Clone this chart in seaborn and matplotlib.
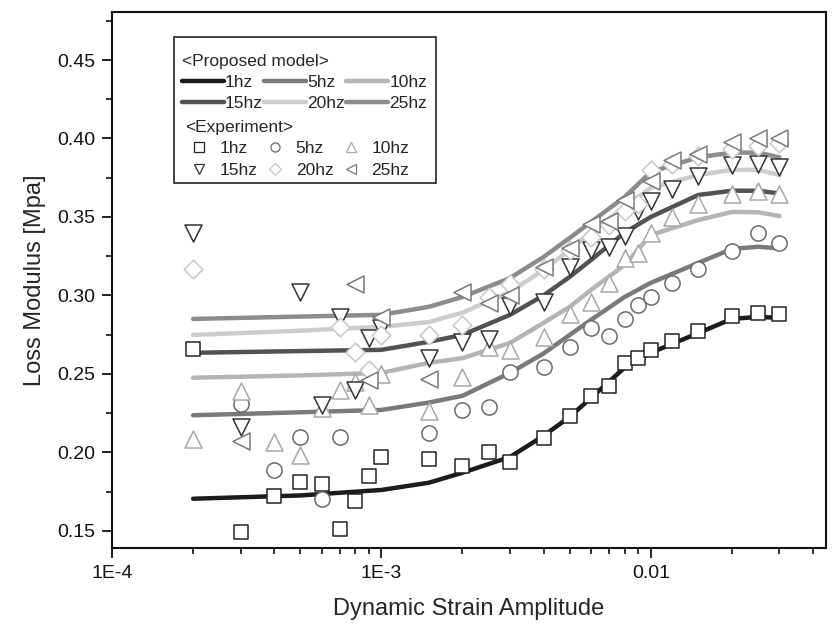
import numpy as np
import pandas as pd
import seaborn as sns
from matplotlib import pyplot as plt
from matplotlib.lines import Line2D
from matplotlib.patches import Rectangle
from matplotlib.ticker import FixedLocator, FixedFormatter, LogLocator, MultipleLocator, NullFormatter

sns.set_style("ticks")
plt.rcParams['font.family'] = ['Liberation Sans', 'DejaVu Sans']

# model curves (Proposed model)
model_x = [2e-4, 5e-4, 1e-3, 1.5e-3, 2e-3, 3e-3, 4e-3, 5e-3, 6e-3, 8e-3, 1e-2, 1.5e-2, 2e-2, 2.5e-2, 3e-2]
model_1hz = [0.1704, 0.1725, 0.1760, 0.1806, 0.1870, 0.1970, 0.2105, 0.2226, 0.2347, 0.2540, 0.2634, 0.2760, 0.2850, 0.2863, 0.2857]
model_5hz = [0.2236, 0.2255, 0.2270, 0.2317, 0.2360, 0.2506, 0.2630, 0.2748, 0.2844, 0.2990, 0.3080, 0.3207, 0.3296, 0.3310, 0.3300]
model_10hz = [0.2475, 0.2490, 0.2506, 0.2570, 0.2600, 0.2697, 0.2825, 0.2927, 0.3035, 0.3194, 0.3385, 0.3480, 0.3532, 0.3530, 0.3506]
model_15hz = [0.2634, 0.2645, 0.2653, 0.2704, 0.2748, 0.2876, 0.3000, 0.3118, 0.3226, 0.3400, 0.3500, 0.3640, 0.3667, 0.3667, 0.3650]
model_20hz = [0.2748, 0.2775, 0.2800, 0.2830, 0.2890, 0.3022, 0.3162, 0.3290, 0.3405, 0.3564, 0.3685, 0.3767, 0.3800, 0.3800, 0.3767]
model_25hz = [0.2850, 0.2865, 0.2876, 0.2927, 0.2990, 0.3110, 0.3245, 0.3366, 0.3468, 0.3627, 0.3787, 0.3880, 0.3910, 0.3910, 0.3880]

# experiment points
exp_x_1hz = [2e-4, 3e-4, 4e-4, 5e-4, 6e-4, 7e-4, 8e-4, 9e-4, 1e-3, 1.5e-3, 2e-3, 2.5e-3, 3e-3, 4e-3,
             5e-3, 6e-3, 7e-3, 8e-3, 9e-3, 1e-2, 1.2e-2, 1.5e-2, 2e-2, 2.5e-2, 3e-2]
exp_1hz = [0.266, 0.149, 0.172, 0.181, 0.180, 0.151, 0.169, 0.185, 0.197, 0.196, 0.191, 0.200, 0.194, 0.209,
           0.223, 0.236, 0.242, 0.257, 0.260, 0.265, 0.271, 0.277, 0.287, 0.289, 0.288]
exp_x_5hz = [3e-4, 4e-4, 5e-4, 6e-4, 7e-4, 1.5e-3, 2e-3, 2.5e-3, 3e-3, 4e-3, 5e-3, 6e-3, 7e-3, 8e-3,
             9e-3, 1e-2, 1.2e-2, 1.5e-2, 2e-2, 2.5e-2, 3e-2]
exp_5hz = [0.231, 0.189, 0.210, 0.170, 0.210, 0.212, 0.227, 0.229, 0.251, 0.2545, 0.267, 0.279, 0.274, 0.285,
           0.294, 0.299, 0.308, 0.317, 0.328, 0.340, 0.3335]
exp_x_10hz = [2e-4, 3e-4, 4e-4, 5e-4, 6e-4, 7e-4, 8e-4, 9e-4, 1e-3, 1.5e-3, 2e-3, 2.5e-3, 3e-3, 4e-3,
              5e-3, 6e-3, 7e-3, 8e-3, 9e-3, 1e-2, 1.2e-2, 1.5e-2, 2e-2, 2.5e-2, 3e-2]
exp_10hz = [0.2086, 0.239, 0.2067, 0.198, 0.228, 0.240, 0.245, 0.230, 0.250, 0.226, 0.248, 0.267, 0.265, 0.2736,
            0.288, 0.296, 0.308, 0.324, 0.327, 0.340, 0.350, 0.358, 0.3645, 0.3667, 0.3645]
exp_x_15hz = [2e-4, 3e-4, 5e-4, 6e-4, 7e-4, 8e-4, 9e-4, 1e-3, 1.5e-3, 2e-3, 2.5e-3, 3e-3, 4e-3,
              5e-3, 6e-3, 7e-3, 8e-3, 9e-3, 1e-2, 1.2e-2, 1.5e-2, 2e-2, 2.5e-2, 3e-2]
exp_15hz = [0.340, 0.216, 0.302, 0.230, 0.286, 0.240, 0.273, 0.279, 0.260, 0.270, 0.272, 0.293, 0.296,
            0.318, 0.329, 0.331, 0.338, 0.354, 0.360, 0.368, 0.376, 0.383, 0.384, 0.382]
exp_x_20hz = [2e-4, 7e-4, 8e-4, 9e-4, 1e-3, 1.5e-3, 2e-3, 2.5e-3, 3e-3, 4e-3, 5e-3, 6e-3, 7e-3, 8e-3,
              9e-3, 1e-2, 1.2e-2, 1.5e-2, 2e-2, 2.5e-2, 3e-2]
exp_20hz = [0.317, 0.280, 0.264, 0.2525, 0.275, 0.275, 0.281, 0.299, 0.307, 0.317, 0.329, 0.337, 0.345, 0.354,
            0.358, 0.380, 0.384, 0.389, 0.393, 0.395, 0.397]
exp_x_25hz = [3e-4, 8e-4, 9e-4, 1e-3, 1.5e-3, 2e-3, 2.5e-3, 3e-3, 4e-3, 5e-3, 6e-3, 7e-3, 8e-3,
              1e-2, 1.2e-2, 1.5e-2, 2e-2, 2.5e-2, 3e-2]
exp_25hz = [0.207, 0.307, 0.246, 0.286, 0.247, 0.302, 0.295, 0.300, 0.318, 0.330, 0.3455, 0.3475, 0.361,
            0.373, 0.386, 0.390, 0.398, 0.400, 0.400]

labels = ["1hz", "5hz", "10hz", "15hz", "20hz", "25hz"]
models = [model_1hz, model_5hz, model_10hz, model_15hz, model_20hz, model_25hz]
exps = [(exp_x_1hz, exp_1hz), (exp_x_5hz, exp_5hz), (exp_x_10hz, exp_10hz),
        (exp_x_15hz, exp_15hz), (exp_x_20hz, exp_20hz), (exp_x_25hz, exp_25hz)]
line_colors = ["#1c1c1c", "#7a7a7a", "#b4b4b4", "#525252", "#cdcdcd", "#8c8c8c"]
marker_colors = ["#222222", "#6a6a6a", "#a8a8a8", "#333333", "#c8c8c8", "#7a7a7a"]
markers = ["s", "o", "^", "v", "D", "<"]
marker_sizes = [100, 120, 150, 150, 90, 150]

fig = plt.figure(figsize=(8.32, 6.32), dpi=100)
ax = fig.add_axes([0.1346, 0.1329, 0.8582, 0.8481])

for lab, ys, c in zip(labels, models, line_colors):
    sns.lineplot(x=model_x, y=ys, color=c, lw=3.2, ax=ax, zorder=2)

for (xs, ys), m, c, s in zip(exps, markers, marker_colors, marker_sizes):
    sns.scatterplot(x=xs, y=ys, marker=m, s=s, facecolor="white", edgecolor=c, linewidth=1.1, ax=ax, zorder=3)

ax.set_xscale("log")
ax.set_xlim(1e-4, 0.0447)
ax.set_ylim(0.139, 0.4806)
ax.xaxis.set_major_locator(FixedLocator([1e-4, 1e-3, 1e-2]))
ax.xaxis.set_major_formatter(FixedFormatter(["1E-4", "1E-3", "0.01"]))
ax.xaxis.set_minor_locator(LogLocator(base=10, subs=np.arange(2, 10), numticks=20))
ax.xaxis.set_minor_formatter(NullFormatter())
ax.yaxis.set_major_locator(MultipleLocator(0.05))
ax.yaxis.set_minor_locator(MultipleLocator(0.025))
ax.yaxis.set_major_formatter(plt.FormatStrFormatter("%.2f"))

for sp in ax.spines.values():
    sp.set_linewidth(1.5)
    sp.set_color("#111111")
ax.tick_params(which="major", direction="out", length=7, width=1.3, labelsize=14, colors="#111111", pad=5)
ax.tick_params(which="minor", direction="out", length=4, width=1.2, colors="#111111")
ax.tick_params(top=False, right=False, which="both")

ax.set_xlabel("Dynamic Strain Amplitude", fontsize=17, labelpad=12)
ax.set_ylabel("Loss Modulus [Mpa]", fontsize=17, labelpad=8)

# legend entries are filled column by column, so order them to read row by row
order = [0, 3, 1, 4, 2, 5]

line_handles = [Line2D([], [], color=c, lw=3.2) for c in line_colors]
leg1 = ax.legend([line_handles[i] for i in order], [labels[i] for i in order], ncol=3,
                 title="<Proposed model>", loc="upper left",
                 bbox_to_anchor=(0.0925, 0.929), frameon=False, fontsize=12.5, title_fontsize=12.5,
                 handlelength=2.45, handletextpad=0.05, columnspacing=0.05, labelspacing=0.36,
                 borderpad=0.2, borderaxespad=0)
leg1._legend_box.align = "left"
ax.add_artist(leg1)

mk_handles = [Line2D([], [], ls="", marker=m, markersize=6.5, markerfacecolor="white",
                     markeredgecolor=c, markeredgewidth=0.9) for m, c in zip(markers, marker_colors)]
leg2 = ax.legend([mk_handles[i] for i in order], [labels[i] for i in order], ncol=3,
                 title="<Experiment>", loc="upper left",
                 bbox_to_anchor=(0.097, 0.805), frameon=False, fontsize=12.5, title_fontsize=12.5,
                 handlelength=1.6, handletextpad=0.4, columnspacing=0.2, labelspacing=0.36,
                 borderpad=0.2, borderaxespad=0)
leg2._legend_box.align = "left"

ax.add_patch(Rectangle((0.0868, 0.681), 0.367, 0.272, transform=ax.transAxes, fill=False,
                       edgecolor="#222222", lw=1.2, zorder=5))

fig.savefig("out.png", dpi=100)
